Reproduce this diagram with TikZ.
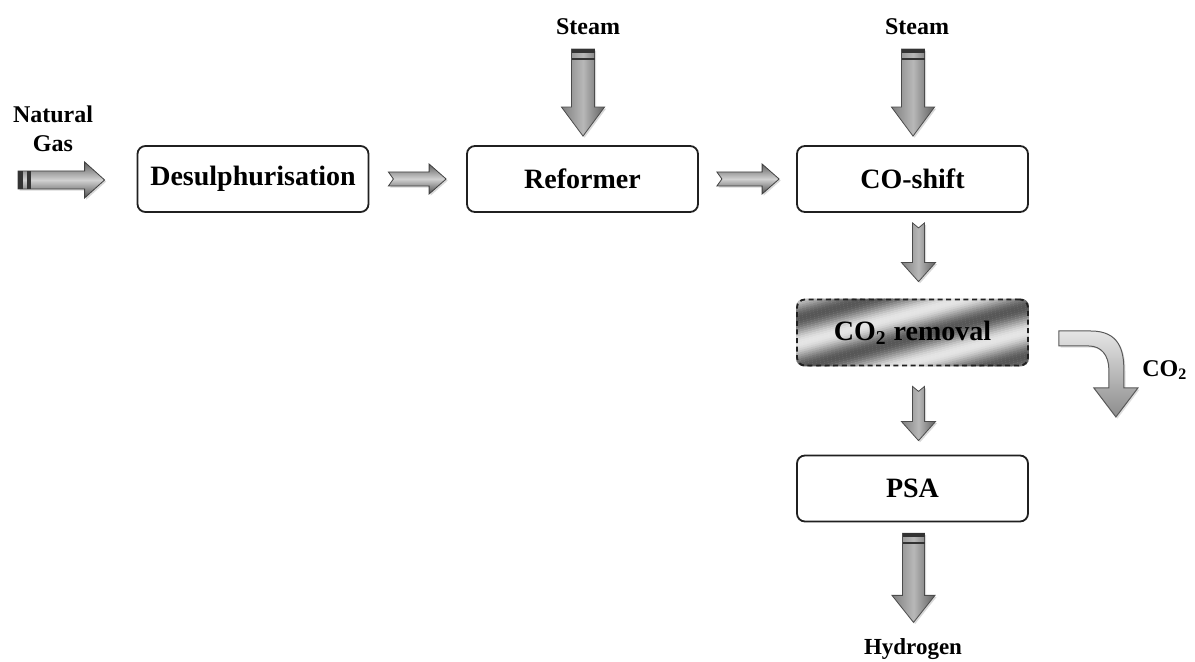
\documentclass[tikz,border=0pt]{standalone}
\usepackage{fontspec}
\setmainfont{Liberation Serif}
\usetikzlibrary{calc,shadows,backgrounds}
% horizontal block arrow: tail, tip, body half, head half, head length, notch, style
\newcommand\hblockarrow[7]{%
  \path[#7] let \p1=(#1), \p2=(#2) in
    (\x1,\y1+#3) -- (\x2-#5,\y1+#3) -- (\x2-#5,\y1+#4) -- (\x2,\y1)
    -- (\x2-#5,\y1-#4) -- (\x2-#5,\y1-#3) -- (\x1,\y1-#3) -- (\x1+#6,\y1) -- cycle;}
% vertical block arrow (pointing down)
\newcommand\vblockarrow[7]{%
  \path[#7] let \p1=(#1), \p2=(#2) in
    (\x1-#3,\y1) -- (\x1-#3,\y2+#5) -- (\x1-#4,\y2+#5) -- (\x1,\y2)
    -- (\x1+#4,\y2+#5) -- (\x1+#3,\y2+#5) -- (\x1+#3,\y1) -- (\x1,\y1-#6) -- cycle;}
\begin{document}
\begin{tikzpicture}[x=0.5pt,y=-0.5pt,
  box/.style={draw=gray!25!black, line width=0.9pt, rounded corners=4pt,
    minimum width=115.5pt, minimum height=33pt, fill=white, inner sep=0pt,
    font=\fontsize{14}{17}\selectfont\bfseries},
  lbl/.style={font=\fontsize{12}{13.5}\selectfont\bfseries, align=center, inner sep=0pt},
  hshade/.style={draw=black!75, line width=0.4pt, top color=black!62, bottom color=black!70,
    middle color=black!18, drop shadow={opacity=0.3, shadow xshift=0.8pt, shadow yshift=-0.8pt}},
  vshade/.style={draw=black!70, line width=0.4pt, left color=black!50, right color=black!62,
    middle color=black!28, drop shadow={opacity=0.3, shadow xshift=0.8pt, shadow yshift=-0.8pt}},
  tailstripe/.style={fill=black!80},
  lightarrow/.style={draw=black!65, line width=0.5pt, top color=black!10, bottom color=black!45,
    drop shadow={opacity=0.25, shadow xshift=0.8pt, shadow yshift=-0.8pt}}
]
\useasboundingbox (0,0) rectangle (1195,662);

% process boxes
\node[box] (desul) at (253,179) {Desulphurisation};
\node[box] (ref) at (582.5,179) {Reformer};
\node[box] (shift) at (912.5,179) {CO-shift};
\node[box, fill=none, dash pattern=on 2.5pt off 1.8pt] (co2r) at (912.5,332.5) {CO\textsubscript{2} removal};
\node[box] (psa) at (912.5,488.5) {PSA};

% metallic stripes behind CO2 removal
\begin{scope}[on background layer]
  \clip[rounded corners=4pt] (co2r.south west) rectangle (co2r.north east);
  \begin{scope}[shift={(co2r.center)}, rotate=15]
    \foreach \k in {-90,...,90} {
      \pgfmathsetmacro{\pc}{38+28*sin(\k*15+60)}
      \fill[black!\pc!white] (-200,\k*2) rectangle (200,\k*2+2.3);
    }
  \end{scope}
\end{scope}

% labels
\node[lbl] (ng) at (53,129) {Natural\\[1pt]Gas};
\node[lbl] (steam1) at (588,27) {Steam};
\node[lbl] (steam2) at (917,27) {Steam};
\node[lbl, font=\fontsize{11.5}{13}\selectfont\bfseries] (h2) at (913,649) {Hydrogen};
\node[lbl, anchor=west] (co2) at (1142,370) {CO\textsubscript{2}};

% connector end points
\coordinate (ngtail) at (18,180);
\coordinate (ngtip) at ($(desul.west)+(-32,1)$);
\coordinate (a1t) at ($(desul.east)+(19,0)$);
\coordinate (a1h) at ($(ref.west)+(-20,0)$);
\coordinate (a2t) at ($(ref.east)+(18,0)$);
\coordinate (a2h) at ($(shift.west)+(-17,0)$);
\coordinate (s1t) at ($(ref.north)+(0.5,-96)$);
\coordinate (s1h) at ($(ref.north)+(0.5,-9)$);
\coordinate (s2t) at ($(shift.north)+(0.5,-96)$);
\coordinate (s2h) at ($(shift.north)+(0.5,-9)$);
\coordinate (d1t) at ($(shift.south)+(6,10)$);
\coordinate (d1h) at ($(co2r.north)+(6,-17)$);
\coordinate (d2t) at ($(co2r.south)+(6,20)$);
\coordinate (d2h) at ($(psa.north)+(6,-14)$);
\coordinate (d3t) at ($(psa.south)+(1,11)$);
\coordinate (d3h) at ($(psa.south)+(1,100)$);
\coordinate (co2start) at ($(co2r.east)+(30,6)$);

% horizontal arrows
\hblockarrow{ngtail}{ngtip}{4.5pt}{9pt}{10pt}{0pt}{hshade}
\fill[tailstripe] ($(ngtail)+(0,-9)$) rectangle ($(ngtail)+(5,9)$);
\fill[tailstripe] ($(ngtail)+(9,-9)$) rectangle ($(ngtail)+(13,9)$);
\hblockarrow{a1t}{a1h}{3.5pt}{7.5pt}{8.5pt}{2.5pt}{hshade}
\hblockarrow{a2t}{a2h}{3.5pt}{7.5pt}{8.5pt}{2.5pt}{hshade}

% steam arrows
\vblockarrow{s1t}{s1h}{5.75pt}{10.75pt}{14.5pt}{0pt}{vshade}
\fill[tailstripe] ($(s1t)+(-11.5,0)$) rectangle ($(s1t)+(11.5,4)$);
\fill[tailstripe] ($(s1t)+(-11.5,9)$) rectangle ($(s1t)+(11.5,11)$);
\vblockarrow{s2t}{s2h}{5.75pt}{10.75pt}{14.5pt}{0pt}{vshade}
\fill[tailstripe] ($(s2t)+(-11.5,0)$) rectangle ($(s2t)+(11.5,4)$);
\fill[tailstripe] ($(s2t)+(-11.5,9)$) rectangle ($(s2t)+(11.5,11)$);

% vertical process arrows
\vblockarrow{d1t}{d1h}{3pt}{8.5pt}{9.5pt}{2.5pt}{vshade}
\vblockarrow{d2t}{d2h}{3pt}{8.5pt}{9.5pt}{2.5pt}{vshade}
\vblockarrow{d3t}{d3h}{5.5pt}{10.75pt}{13.5pt}{0pt}{vshade}
\fill[tailstripe] ($(d3t)+(-11,0)$) rectangle ($(d3t)+(11,4)$);
\fill[tailstripe] ($(d3t)+(-11,9)$) rectangle ($(d3t)+(11,11)$);

% curved CO2 outlet arrow
\begin{scope}[shift={(co2start)}]
  \path[lightarrow] (0,-7.5) -- (32,-7.5) .. controls (60,-7.5) and (65,11.5) .. (65,31.5)
    -- (65,49.5) -- (79,49.5) -- (57,78.5) -- (35,49.5) -- (50,49.5) -- (50,31.5)
    .. controls (50,16.5) and (42,7.5) .. (30,7.5) -- (0,7.5) -- cycle;
\end{scope}
\end{tikzpicture}
\end{document}
